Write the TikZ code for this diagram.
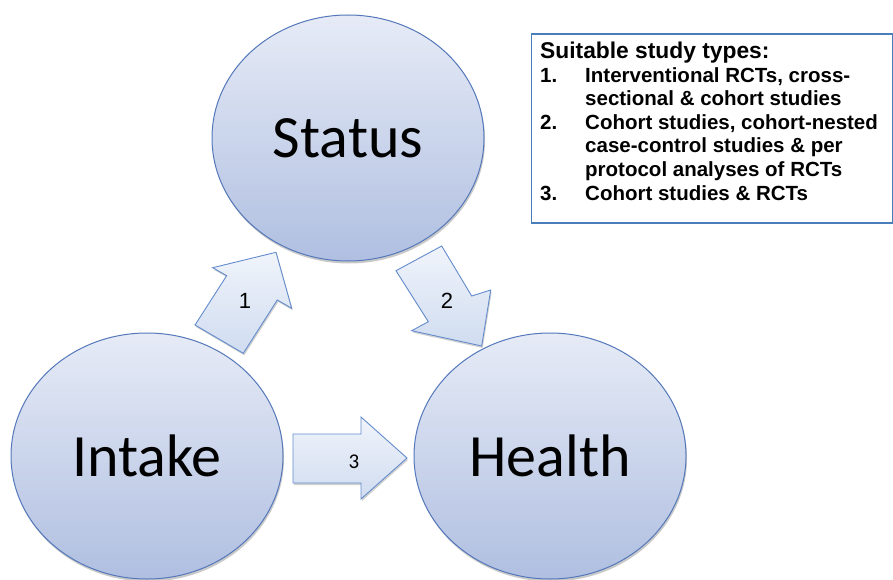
\documentclass[tikz,border=0pt]{standalone}
\usepackage{fontspec}
\setmainfont{Liberation Sans}
\newfontfamily\calfont{Carlito}
\usetikzlibrary{shapes.geometric,shadows}
\definecolor{ellborder}{RGB}{84,120,186}
\definecolor{elltop}{RGB}{230,235,246}
\definecolor{ellbot}{RGB}{176,191,225}
\definecolor{arrborder}{RGB}{100,140,205}
\definecolor{arrtop}{RGB}{240,244,251}
\definecolor{arrbot}{RGB}{208,220,240}
\definecolor{boxborder}{RGB}{74,126,187}
\begin{document}
\begin{tikzpicture}[x=1pt,y=-1pt,
  bubble/.style={ellipse, draw=ellborder, line width=1pt, top color=elltop, bottom color=ellbot,
    minimum width=272pt, minimum height=246pt, inner sep=0pt,
    drop shadow={shadow xshift=1pt, shadow yshift=-2.5pt, opacity=0.35, fill=black!60},
    font=\calfont\fontsize{60}{60}\selectfont},
  blockarrow/.style={draw=arrborder, line width=0.9pt, top color=arrtop, bottom color=arrbot,
    line join=miter,
    drop shadow={shadow xshift=1pt, shadow yshift=-2pt, opacity=0.3, fill=black!60}},
  numlabel/.style={inner sep=0pt, font=\fontsize{22}{22}\selectfont},
  boxtext/.style={inner sep=0pt, anchor=base west, font=\bfseries\fontsize{20.5}{20.5}\selectfont},
  boxhead/.style={inner sep=0pt, anchor=base west, font=\bfseries\fontsize{22.8}{22.8}\selectfont}
]
\useasboundingbox (0,0) rectangle (893,580);
\fill[white] (0,0) rectangle (893,580);

% bubbles
\node[bubble] (status) at (348,138) {Status};
\node[bubble] (intake) at (147,456) {Intake};
\node[bubble] (health) at (550,456) {Health};

% block arrows
\draw[blockarrow] (195,325) -- (226.7,275.7) -- (212.7,267.7) -- (276,252.3)
  -- (291.7,308.3) -- (277.3,300) -- (243.3,353.3) -- cycle;
\draw[blockarrow] (396,270.7) -- (441.7,246) -- (471.7,296) -- (490.7,290)
  -- (481.7,346) -- (411.7,330.7) -- (428.3,321.7) -- cycle;
\draw[blockarrow] (293,434) -- (361,434) -- (361,417) -- (407,458)
  -- (361,499) -- (361,483) -- (293,483) -- cycle;

\node[numlabel] (l1) at (245,301) {1};
\node[numlabel] (l2) at (447,301) {2};
\node[inner sep=0pt, font=\calfont\fontsize{21}{21}\selectfont] (l3) at (354,462) {3};

% legend box
\node[draw=boxborder, line width=1.6pt, fill=white, minimum width=361pt, minimum height=189pt,
  inner sep=0pt, anchor=north west] (box) at (530.5,33) {};
\node[boxhead] (hd) at (540,59) {Suitable study types:};
\node[boxtext] (n1) at (540,82.5) {1.};
\node[boxtext] (t1) at (585,82.5) {Interventional RCTs, cross-};
\node[boxtext] (t1b) at (585,106) {sectional \& cohort studies};
\node[boxtext] (n2) at (540,129.5) {2.};
\node[boxtext] (t2) at (585,129.5) {Cohort studies, cohort-nested};
\node[boxtext] (t2b) at (585,153) {case-control studies \& per};
\node[boxtext] (t2c) at (585,176.5) {protocol analyses of RCTs};
\node[boxtext] (n3) at (540,200) {3.};
\node[boxtext] (t3) at (585,200) {Cohort studies \& RCTs};
\end{tikzpicture}
\end{document}
